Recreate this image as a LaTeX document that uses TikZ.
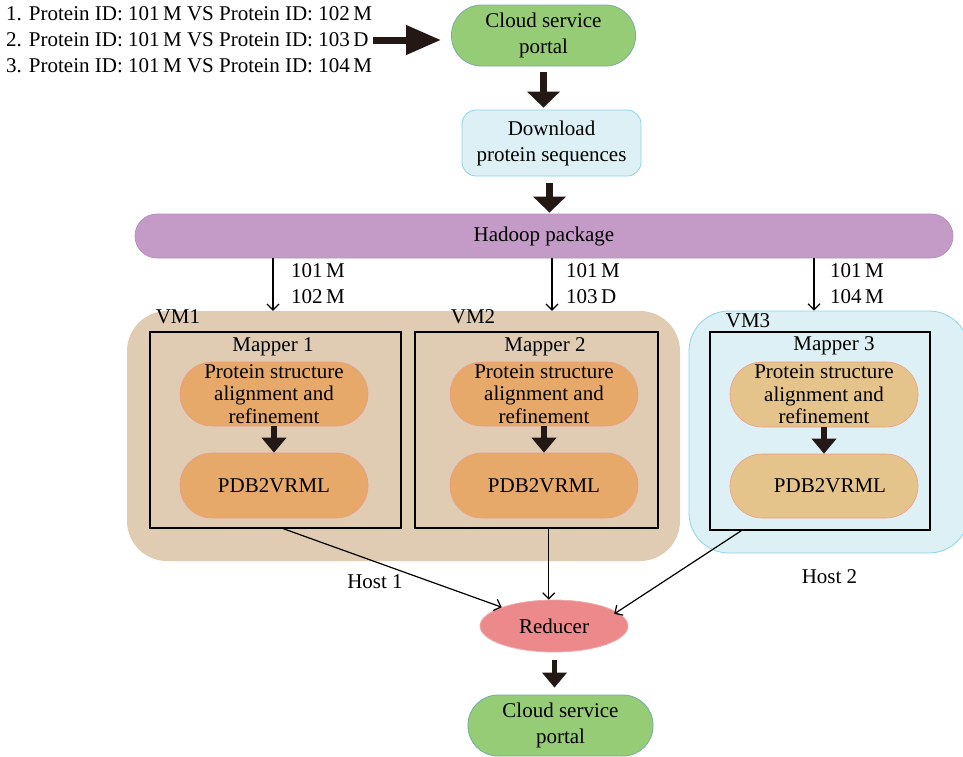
\documentclass[tikz,border=0pt]{standalone}
\usepackage{fontspec}
\setmainfont{Liberation Serif}
\usetikzlibrary{arrows.meta,shapes.geometric,calc}
\definecolor{portalgreen}{HTML}{97CC76}
\definecolor{portalborder}{HTML}{72AFA0}
\definecolor{lightblue}{HTML}{DDF0F5}
\definecolor{blueborder}{HTML}{8DD3EA}
\definecolor{hadoopfill}{HTML}{C49AC7}
\definecolor{hadoopborder}{HTML}{B98EC0}
\definecolor{tanfill}{HTML}{DFCCB3}
\definecolor{orangefill}{HTML}{E6A96A}
\definecolor{pinkborder}{HTML}{F09A86}
\definecolor{paleorange}{HTML}{E5C48C}
\definecolor{reducerfill}{HTML}{EC898B}
\definecolor{reducerborder}{HTML}{F2A8A8}
\definecolor{arrowdark}{HTML}{231815}
\begin{document}
\begin{tikzpicture}[x=1pt,y=-1pt,
  every node/.style={font=\fontsize{21}{24}\selectfont, inner sep=0pt, text=black},
  portal/.style={draw=portalborder, fill=portalgreen, line width=0.8pt, rounded corners=30pt,
    minimum width=184pt, minimum height=61pt, align=center, font=\fontsize{21}{26}\selectfont},
  dlbox/.style={draw=blueborder, fill=lightblue, line width=0.8pt, rounded corners=14pt,
    minimum width=179pt, minimum height=66pt, align=center, font=\fontsize{21}{26}\selectfont},
  hadoopbox/.style={draw=hadoopborder, fill=hadoopfill, line width=0.8pt, rounded corners=22pt,
    minimum width=818pt, minimum height=44pt},
  hostbg/.style={fill=tanfill, rounded corners=40pt},
  vmbg/.style={draw=blueborder, fill=lightblue, line width=0.8pt, rounded corners=40pt},
  mapperbox/.style={draw=black, line width=1.2pt},
  taskpill/.style={draw=pinkborder, fill=#1, line width=0.6pt, rounded corners=32pt,
    minimum width=188pt, minimum height=64pt, align=center, font=\fontsize{21}{22.5}\selectfont},
  reducerbox/.style={ellipse, draw=reducerborder, fill=reducerfill, line width=0.8pt,
    minimum width=148pt, minimum height=52pt},
  bigarrow/.style={draw=arrowdark, line width=7pt, -{Triangle[length=16pt,width=32pt]}},
  sidearrow/.style={draw=arrowdark, line width=7pt, -{Triangle[length=35pt,width=28pt]}},
  midarrow/.style={draw=arrowdark, line width=5.5pt, -{Triangle[length=15pt,width=24pt]}},
  thinarrow/.style={draw=black, line width=1.2pt, -{Straight Barb[length=6pt,width=12pt]}},
  lbl/.style={anchor=west, align=left, font=\fontsize{21}{26}\selectfont}
]
\useasboundingbox (0,0) rectangle (963,756);
\begin{scope}
\clip (0,0) rectangle (963,756);
% list and portal
\node[lbl] (list) at (6,40) {1. Protein ID: 101\,M VS Protein ID: 102\,M\\2. Protein ID: 101\,M VS Protein ID: 103\,D\\3. Protein ID: 101\,M VS Protein ID: 104\,M};
\node[portal] (portal1) at (543.5,35.5) {Cloud service\\portal};
\node[dlbox] (download) at (551.5,143) {Download\\protein sequences};
\node[hadoopbox] (hadoop) at (544,236) {Hadoop package};
% hosts
\node[hostbg, minimum width=553pt, minimum height=250pt] (host1) at (403.5,436) {};
\node[vmbg, minimum width=280pt, minimum height=242pt] (host2) at (829,432) {};
\node (vm1) at (178,317) {VM1};
\node (vm2) at (473,317) {VM2};
\node (vm3) at (748,321) {VM3};
% mappers
\node[mapperbox, minimum width=251pt, minimum height=196pt] (m1) at (275.5,430) {};
\node[mapperbox, minimum width=243pt, minimum height=196pt] (m2) at (536.5,430) {};
\node[mapperbox, minimum width=220pt, minimum height=198pt] (m3) at (820,431) {};
\node (m1l) at (273,347) {Mapper 1};
\node (m2l) at (545,347) {Mapper 2};
\node (m3l) at (834,346) {Mapper 3};
\node[taskpill=orangefill] (psa1) at (274,394) {Protein structure\\alignment and\\refinement};
\node[taskpill=orangefill, minimum height=65pt] (pdb1) at (274,485.5) {PDB2VRML};
\node[taskpill=orangefill] (psa2) at (544,394) {Protein structure\\alignment and\\refinement};
\node[taskpill=orangefill, minimum height=65pt] (pdb2) at (544,485.5) {PDB2VRML};
\node[taskpill=paleorange, minimum height=65pt] (psa3) at (824,394.5) {Protein structure\\alignment and\\refinement};
\node[taskpill=paleorange, minimum height=64pt] (pdb3) at (824,486) {\hspace*{12pt}PDB2VRML};
\draw[midarrow] (psa1.south) -- (pdb1.north);
\draw[midarrow] (psa2.south) -- (pdb2.north);
\draw[midarrow] (psa3.south) -- (pdb3.north);
\node (h1l) at (375,582) {Host 1};
\node (h2l) at (829.5,577) {Host 2};
% reducer and output
\node[reducerbox] (reducer) at (554,626) {Reducer};
\node[portal, minimum width=185pt] (portal2) at (560.5,725.5) {Cloud service\\portal};
% thick arrows
\draw[sidearrow, shorten <=1pt, shorten >=10pt] (list.east) -- (list.east -| portal1.west);
\draw[bigarrow, shorten <=6pt, shorten >=2pt] (portal1.south) -- (portal1.south |- download.north);
\draw[bigarrow, shorten <=7pt, shorten >=1pt] ([xshift=-2pt]download.south) -- ([xshift=-2pt]download.south |- hadoop.north);
\draw[midarrow, shorten <=8pt, shorten >=7pt] ([xshift=0.5pt]reducer.south) -- ([xshift=0.5pt]reducer.south |- portal2.north);
% hadoop to VMs
\coordinate (a1) at (273,0);
\coordinate (a2) at (552,0);
\coordinate (a3) at (814,0);
\draw[thinarrow] (a1 |- hadoop.south) -- (a1 |- host1.north);
\draw[thinarrow] (a2 |- hadoop.south) -- (a2 |- host1.north);
\draw[thinarrow] (a3 |- hadoop.south) -- (a3 |- host2.north);
\node[lbl] (t1) at (291,284) {101\,M\\102\,M};
\node[lbl] (t2) at (566,284) {101\,M\\103\,D};
\node[lbl] (t3) at (830,284) {101\,M\\104\,M};
% mappers to reducer
\coordinate (s1) at ($(m1.south west)!0.53!(m1.south east)$);
\coordinate (s2) at ($(m2.south west)!0.55!(m2.south east)$);
\coordinate (s3) at ($(m3.south west)!0.145!(m3.south east)$);
\draw[thinarrow] (s1) -- (reducer);
\draw[thinarrow] (s2) -- (s2 |- reducer.north);
\draw[thinarrow] (s3) -- ($(reducer.north east)!0.35!(reducer.east)$);
\end{scope}
\end{tikzpicture}
\end{document}
